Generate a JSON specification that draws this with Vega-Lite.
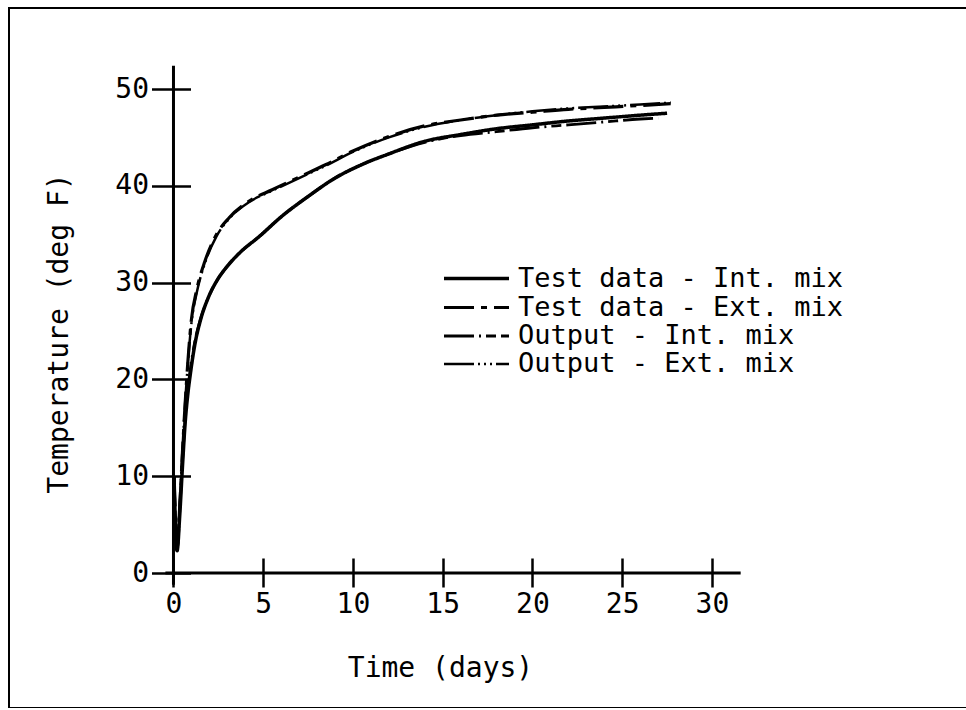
{
  "$schema": "https://vega.github.io/schema/vega-lite/v6.json",
  "width": 958,
  "height": 700,
  "autosize": {"type": "none"},
  "padding": {"left": 9, "top": 8, "right": 0, "bottom": 0},
  "background": "white",
  "config": {
    "view": {"stroke": "black", "strokeWidth": 2},
    "font": "DejaVu Sans Mono",
    "axis": {
      "grid": false,
      "domain": false,
      "tickColor": "black",
      "tickWidth": 2.5,
      "labelFont": "DejaVu Sans Mono",
      "labelFontSize": 28,
      "labelColor": "black",
      "titleFont": "DejaVu Sans Mono",
      "titleFontSize": 28,
      "titleFontWeight": "normal",
      "titleColor": "black"
    },
    "axisX": {
      "offset": -150,
      "tickSize": 29,
      "labelPadding": 3,
      "labelFlush": false,
      "titleX": 431,
      "titleY": 110,
      "titleBaseline": "middle",
      "titleAlign": "center"
    },
    "axisY": {
      "offset": -181.5,
      "tickSize": 39,
      "labelPadding": 3,
      "labelFlush": false,
      "titleX": -131,
      "titleY": 325,
      "titleBaseline": "middle",
      "titleAlign": "center",
      "titleAngle": -90
    }
  },
  "layer": [
    {
      "data": {
        "values": [
          {"series": "Test data - Int. mix", "t": 0.03, "temp": 10},
          {"series": "Test data - Int. mix", "t": 0.2, "temp": 2.3},
          {"series": "Test data - Int. mix", "t": 0.35, "temp": 6},
          {"series": "Test data - Int. mix", "t": 0.5, "temp": 11},
          {"series": "Test data - Int. mix", "t": 0.65, "temp": 15.5},
          {"series": "Test data - Int. mix", "t": 0.8, "temp": 18.5},
          {"series": "Test data - Int. mix", "t": 0.95, "temp": 20.7},
          {"series": "Test data - Int. mix", "t": 1.2, "temp": 23.7},
          {"series": "Test data - Int. mix", "t": 1.5, "temp": 26.1},
          {"series": "Test data - Int. mix", "t": 1.95, "temp": 28.5},
          {"series": "Test data - Int. mix", "t": 2.45, "temp": 30.3},
          {"series": "Test data - Int. mix", "t": 3.0, "temp": 31.7},
          {"series": "Test data - Int. mix", "t": 3.7, "temp": 33.1},
          {"series": "Test data - Int. mix", "t": 4.8, "temp": 34.8},
          {"series": "Test data - Int. mix", "t": 6.0, "temp": 36.8},
          {"series": "Test data - Int. mix", "t": 7.5, "temp": 38.9},
          {"series": "Test data - Int. mix", "t": 9.0, "temp": 40.8},
          {"series": "Test data - Int. mix", "t": 10.5, "temp": 42.2},
          {"series": "Test data - Int. mix", "t": 12.0, "temp": 43.3},
          {"series": "Test data - Int. mix", "t": 14.0, "temp": 44.6},
          {"series": "Test data - Int. mix", "t": 16.0, "temp": 45.3},
          {"series": "Test data - Int. mix", "t": 18.0, "temp": 45.9},
          {"series": "Test data - Int. mix", "t": 20.0, "temp": 46.3},
          {"series": "Test data - Int. mix", "t": 22.0, "temp": 46.7},
          {"series": "Test data - Int. mix", "t": 24.0, "temp": 47.0},
          {"series": "Test data - Int. mix", "t": 26.0, "temp": 47.3},
          {"series": "Test data - Int. mix", "t": 27.5, "temp": 47.5},

          {"series": "Test data - Ext. mix", "t": 0.03, "temp": 10},
          {"series": "Test data - Ext. mix", "t": 0.2, "temp": 2.5},
          {"series": "Test data - Ext. mix", "t": 0.35, "temp": 7},
          {"series": "Test data - Ext. mix", "t": 0.5, "temp": 12.5},
          {"series": "Test data - Ext. mix", "t": 0.65, "temp": 17.5},
          {"series": "Test data - Ext. mix", "t": 0.8, "temp": 21.8},
          {"series": "Test data - Ext. mix", "t": 1.0, "temp": 26.2},
          {"series": "Test data - Ext. mix", "t": 1.3, "temp": 29.3},
          {"series": "Test data - Ext. mix", "t": 1.75, "temp": 32.2},
          {"series": "Test data - Ext. mix", "t": 2.4, "temp": 35.0},
          {"series": "Test data - Ext. mix", "t": 3.1, "temp": 36.7},
          {"series": "Test data - Ext. mix", "t": 4.2, "temp": 38.4},
          {"series": "Test data - Ext. mix", "t": 5.5, "temp": 39.6},
          {"series": "Test data - Ext. mix", "t": 7.0, "temp": 40.9},
          {"series": "Test data - Ext. mix", "t": 8.5, "temp": 42.2},
          {"series": "Test data - Ext. mix", "t": 10.0, "temp": 43.6},
          {"series": "Test data - Ext. mix", "t": 12.0, "temp": 45.1},
          {"series": "Test data - Ext. mix", "t": 14.0, "temp": 46.2},
          {"series": "Test data - Ext. mix", "t": 16.0, "temp": 46.8},
          {"series": "Test data - Ext. mix", "t": 18.0, "temp": 47.3},
          {"series": "Test data - Ext. mix", "t": 20.0, "temp": 47.6},
          {"series": "Test data - Ext. mix", "t": 22.0, "temp": 47.9},
          {"series": "Test data - Ext. mix", "t": 24.0, "temp": 48.1},
          {"series": "Test data - Ext. mix", "t": 26.0, "temp": 48.3},
          {"series": "Test data - Ext. mix", "t": 27.7, "temp": 48.5},

          {"series": "Output - Int. mix", "t": 0.03, "temp": 10},
          {"series": "Output - Int. mix", "t": 0.2, "temp": 2.6},
          {"series": "Output - Int. mix", "t": 0.35, "temp": 6.5},
          {"series": "Output - Int. mix", "t": 0.5, "temp": 11.5},
          {"series": "Output - Int. mix", "t": 0.65, "temp": 16},
          {"series": "Output - Int. mix", "t": 0.8, "temp": 19},
          {"series": "Output - Int. mix", "t": 0.95, "temp": 21.2},
          {"series": "Output - Int. mix", "t": 1.2, "temp": 24.0},
          {"series": "Output - Int. mix", "t": 1.5, "temp": 26.2},
          {"series": "Output - Int. mix", "t": 1.95, "temp": 28.5},
          {"series": "Output - Int. mix", "t": 2.45, "temp": 30.3},
          {"series": "Output - Int. mix", "t": 3.0, "temp": 31.7},
          {"series": "Output - Int. mix", "t": 3.7, "temp": 33.1},
          {"series": "Output - Int. mix", "t": 4.8, "temp": 34.8},
          {"series": "Output - Int. mix", "t": 6.0, "temp": 36.8},
          {"series": "Output - Int. mix", "t": 7.5, "temp": 38.9},
          {"series": "Output - Int. mix", "t": 9.0, "temp": 40.8},
          {"series": "Output - Int. mix", "t": 10.5, "temp": 42.2},
          {"series": "Output - Int. mix", "t": 12.0, "temp": 43.3},
          {"series": "Output - Int. mix", "t": 14.0, "temp": 44.5},
          {"series": "Output - Int. mix", "t": 16.0, "temp": 45.2},
          {"series": "Output - Int. mix", "t": 18.0, "temp": 45.6},
          {"series": "Output - Int. mix", "t": 20.0, "temp": 46.0},
          {"series": "Output - Int. mix", "t": 22.0, "temp": 46.3},
          {"series": "Output - Int. mix", "t": 24.0, "temp": 46.6},
          {"series": "Output - Int. mix", "t": 26.0, "temp": 46.9},
          {"series": "Output - Int. mix", "t": 27.0, "temp": 47.0},

          {"series": "Output - Ext. mix", "t": 0.03, "temp": 10},
          {"series": "Output - Ext. mix", "t": 0.2, "temp": 2.7},
          {"series": "Output - Ext. mix", "t": 0.35, "temp": 7.3},
          {"series": "Output - Ext. mix", "t": 0.5, "temp": 12.8},
          {"series": "Output - Ext. mix", "t": 0.65, "temp": 17.6},
          {"series": "Output - Ext. mix", "t": 0.8, "temp": 21.6},
          {"series": "Output - Ext. mix", "t": 1.0, "temp": 25.8},
          {"series": "Output - Ext. mix", "t": 1.3, "temp": 29.0},
          {"series": "Output - Ext. mix", "t": 1.75, "temp": 32.0},
          {"series": "Output - Ext. mix", "t": 2.4, "temp": 34.8},
          {"series": "Output - Ext. mix", "t": 3.1, "temp": 36.6},
          {"series": "Output - Ext. mix", "t": 4.2, "temp": 38.3},
          {"series": "Output - Ext. mix", "t": 5.5, "temp": 39.5},
          {"series": "Output - Ext. mix", "t": 7.0, "temp": 40.8},
          {"series": "Output - Ext. mix", "t": 8.5, "temp": 42.1},
          {"series": "Output - Ext. mix", "t": 10.0, "temp": 43.5},
          {"series": "Output - Ext. mix", "t": 12.0, "temp": 45.0},
          {"series": "Output - Ext. mix", "t": 14.0, "temp": 46.1},
          {"series": "Output - Ext. mix", "t": 16.0, "temp": 46.8},
          {"series": "Output - Ext. mix", "t": 18.0, "temp": 47.3},
          {"series": "Output - Ext. mix", "t": 20.0, "temp": 47.7},
          {"series": "Output - Ext. mix", "t": 22.0, "temp": 48.0},
          {"series": "Output - Ext. mix", "t": 24.0, "temp": 48.2},
          {"series": "Output - Ext. mix", "t": 26.0, "temp": 48.4},
          {"series": "Output - Ext. mix", "t": 27.7, "temp": 48.6}
        ]
      },
      "mark": {"type": "line", "interpolate": "monotone", "color": "black", "strokeCap": "butt"},
      "encoding": {
        "x": {
          "field": "t",
          "type": "quantitative",
          "title": "Time (days)",
          "scale": {"domain": [-9.164, 44.21], "nice": false, "zero": false},
          "axis": {"values": [0, 5, 10, 15, 20, 25, 30]}
        },
        "y": {
          "field": "temp",
          "type": "quantitative",
          "title": "Temperature (deg F)",
          "scale": {"domain": [-13.94, 58.37], "nice": false, "zero": false},
          "axis": {"values": [0, 10, 20, 30, 40, 50]}
        },
        "strokeDash": {
          "field": "series",
          "type": "nominal",
          "scale": {
            "domain": ["Test data - Int. mix", "Test data - Ext. mix", "Output - Int. mix", "Output - Ext. mix"],
            "range": [[1, 0], [30, 7, 6, 7], [30, 5, 2, 5, 10, 5], [30, 4, 2, 4, 2, 4, 2, 4]]
          },
          "legend": {
            "title": null,
            "orient": "none",
            "legendX": 453,
            "legendY": 256,
            "symbolType": "M-2.6,0H2.6",
            "symbolSize": 625,
            "symbolStrokeColor": "black",
            "symbolStrokeWidth": 3,
            "labelFont": "DejaVu Sans Mono",
            "labelFontSize": 27,
            "labelColor": "black",
            "labelLimit": 700,
            "labelOffset": 27,
            "rowPadding": 1,
            "padding": 0
          }
        },
        "strokeWidth": {
          "field": "series",
          "type": "nominal",
          "scale": {
            "domain": ["Test data - Int. mix", "Test data - Ext. mix", "Output - Int. mix", "Output - Ext. mix"],
            "range": [3.5, 2.5, 2.2, 2.2]
          },
          "legend": {
            "title": null,
            "orient": "none",
            "legendX": 453,
            "legendY": 256,
            "symbolType": "M-2.6,0H2.6",
            "symbolSize": 625,
            "symbolStrokeColor": "black",
            "labelFont": "DejaVu Sans Mono",
            "labelFontSize": 27,
            "labelColor": "black",
            "labelLimit": 700,
            "labelOffset": 27,
            "rowPadding": 1,
            "padding": 0
          }
        }
      }
    },
    {
      "data": {"values": [{}]},
      "mark": {"type": "rule", "color": "black", "strokeWidth": 3},
      "encoding": {
        "x": {"datum": -0.45, "title": "Time (days)"},
        "x2": {"datum": 31.6},
        "y": {"datum": 0, "title": "Temperature (deg F)"}
      }
    },
    {
      "data": {"values": [{}]},
      "mark": {"type": "rule", "color": "black", "strokeWidth": 3},
      "encoding": {
        "x": {"datum": 0, "title": "Time (days)"},
        "y": {"datum": -1.2, "title": "Temperature (deg F)"},
        "y2": {"datum": 52.4}
      }
    }
  ]
}
